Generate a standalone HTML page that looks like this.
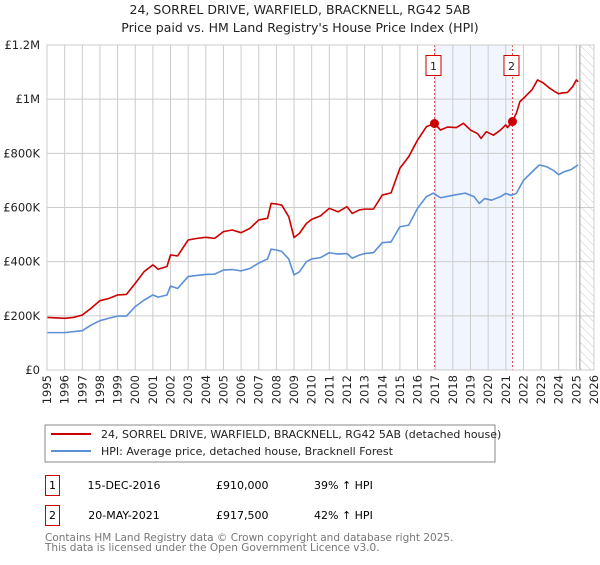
<!DOCTYPE html>
<html><head><meta charset="utf-8"><style>
body{margin:0;background:#fff;font-family:"Liberation Sans","DejaVu Sans",sans-serif;}
svg text{font-family:"DejaVu Sans","Liberation Sans",sans-serif;}
</style></head><body>
<svg id="chart" width="600" height="560" viewBox="0 0 600 560" xmlns="http://www.w3.org/2000/svg">
<defs><pattern id="hatch" width="6" height="6" patternUnits="userSpaceOnUse" patternTransform="rotate(-45)"><line x1="0" y1="0" x2="0" y2="6" stroke="#bbb" stroke-width="0.8"/></pattern></defs>
<text x="300" y="14" text-anchor="middle" font-size="12.5" fill="#222">24, SORREL DRIVE, WARFIELD, BRACKNELL, RG42 5AB</text>
<text x="300" y="32" text-anchor="middle" font-size="12.5" fill="#222">Price paid vs. HM Land Registry's House Price Index (HPI)</text>
<g id="plot"></g>
<rect x="45" y="425" width="450" height="37" fill="#fff" stroke="#888"/>
<line x1="51" y1="434" x2="91" y2="434" stroke="#cc0000" stroke-width="2"/>
<text x="101" y="438" font-size="11" fill="#222">24, SORREL DRIVE, WARFIELD, BRACKNELL, RG42 5AB (detached house)</text>
<line x1="51" y1="451" x2="91" y2="451" stroke="#5b8fd6" stroke-width="2"/>
<text x="101" y="455" font-size="11" fill="#222">HPI: Average price, detached house, Bracknell Forest</text>
<g>
<rect x="45.5" y="475.5" width="14" height="20" fill="#fff" stroke="#cc0000"/>
<text x="52.5" y="489" text-anchor="middle" font-size="11">1</text>
<text x="124" y="489" text-anchor="middle" font-size="11">15-DEC-2016</text>
<text x="216" y="489" font-size="11">£910,000</text>
<text x="314" y="489" font-size="11">39% ↑ HPI</text></g>
<g>
<rect x="45.5" y="505.5" width="14" height="20" fill="#fff" stroke="#cc0000"/>
<text x="52.5" y="519" text-anchor="middle" font-size="11">2</text>
<text x="124" y="519" text-anchor="middle" font-size="11">20-MAY-2021</text>
<text x="216" y="519" font-size="11">£917,500</text>
<text x="314" y="519" font-size="11">42% ↑ HPI</text></g>
<text x="45" y="541" font-size="10.5" fill="#777">Contains HM Land Registry data © Crown copyright and database right 2025.</text>
<text x="45" y="551" font-size="10.5" fill="#777">This data is licensed under the Open Government Licence v3.0.</text>
</svg>
<script>
const yTicks=[0,200000,400000,600000,800000,1000000,1200000];
const yTickLabels=["£0","£200K","£400K","£600K","£800K","£1M","£1.2M"];
const xYears=[1995,1996,1997,1998,1999,2000,2001,2002,2003,2004,2005,2006,2007,2008,2009,2010,2011,2012,2013,2014,2015,2016,2017,2018,2019,2020,2021,2022,2023,2024,2025,2026];
const hpiT=[1995,1996,1997,1997.5,1998,1998.5,1999,1999.5,2000,2000.5,2001,2001.3,2001.8,2002,2002.4,2003,2003.5,2004,2004.5,2005,2005.5,2006,2006.5,2007,2007.5,2007.7,2008,2008.3,2008.7,2009,2009.3,2009.7,2010,2010.5,2011,2011.5,2012,2012.3,2012.7,2013,2013.5,2014,2014.5,2015,2015.5,2016,2016.5,2016.9,2017.3,2018,2018.7,2019.2,2019.5,2019.8,2020.2,2020.7,2021,2021.3,2021.6,2022,2022.5,2022.9,2023.3,2023.7,2024,2024.3,2024.7,2025.1];
const hpiV=[138,138,145,166,182,191,199,199,234,258,277,269,277,310,301,345,349,353,354,369,371,366,375,395,410,446,443,438,410,351,362,400,410,415,433,428,430,413,424,430,433,470,473,529,535,597,640,653,636,645,653,640,615,633,627,640,652,645,652,700,732,757,751,737,721,732,740,757];
const propT=[1995,1996,1996.5,1997,1997.5,1998,1998.5,1999,1999.5,2000,2000.5,2001,2001.3,2001.8,2002,2002.4,2003,2003.5,2004,2004.5,2005,2005.5,2006,2006.5,2007,2007.5,2007.7,2008,2008.3,2008.7,2009,2009.3,2009.7,2010,2010.5,2011,2011.5,2012,2012.3,2012.7,2013,2013.5,2014,2014.5,2015,2015.5,2016,2016.5,2016.96,2017.3,2017.7,2018.2,2018.6,2019,2019.4,2019.6,2019.9,2020.3,2020.7,2021,2021.1,2021.38,2021.6,2021.8,2022.1,2022.5,2022.8,2023.1,2023.5,2023.8,2024,2024.2,2024.5,2024.8,2025,2025.1];
const propV=[194,191,194,203,228,256,264,277,279,320,363,388,372,382,425,421,480,486,490,486,511,517,507,523,554,560,615,613,609,566,489,504,541,556,569,597,584,603,578,591,594,594,646,654,745,788,849,898,911,886,897,895,911,886,873,855,880,867,886,905,895,919,948,991,1009,1036,1071,1061,1040,1027,1020,1023,1025,1047,1071,1064];
const saleT=[2016.96,2021.38];
const saleV=[910000,917500];
const saleLabels=["1","2"];
const X0=47,X1=594,Y0=370,Y1=45;
const xs=t=>X0+(t-1995)/(2026-1995)*(X1-X0);
const ys=v=>Y0-v/1200000*(Y0-Y1);
const NS="http://www.w3.org/2000/svg";
const g=document.getElementById('plot');
function mk(tag,attrs){const e=document.createElementNS(NS,tag);for(const k in attrs)e.setAttribute(k,attrs[k]);g.appendChild(e);return e;}
let e=mk('rect',{x:xs(saleT[0]),y:Y1,width:xs(saleT[1])-xs(saleT[0]),height:Y0-Y1,fill:'#eef3fc',opacity:0.8});


e=mk('rect',{x:xs(2025.2),y:Y1,width:X1-xs(2025.2),height:Y0-Y1,fill:'url(#hatch)'});


xYears.forEach(yr=>{const l=mk('line',{x1:xs(yr),x2:xs(yr),y1:Y1,y2:Y0,stroke:'#ccc','stroke-width':1});


const t=mk('text',{x:0,y:0,'font-size':11.5,fill:'#222','text-anchor':'end',transform:`translate(${xs(yr)+4},${Y0+5}) rotate(-90)`});t.textContent=yr;

});
yTicks.forEach((v,i)=>{const l=mk('line',{x1:X0,x2:X1,y1:ys(v),y2:ys(v),stroke:'#ccc','stroke-width':1});


const t=mk('text',{x:X0-7,y:ys(v)+4,'font-size':11.5,fill:'#222','text-anchor':'end'});t.textContent=yTickLabels[i];

});
e=mk('line',{x1:xs(2025.2),x2:xs(2025.2),y1:Y1,y2:Y0,stroke:'#999','stroke-width':1});


saleT.forEach((t,i)=>{const l=mk('line',{x1:xs(t),x2:xs(t),y1:Y1,y2:Y0,stroke:'#e05050','stroke-width':1,'stroke-dasharray':'2,2'});


const r=mk('rect',{x:xs(t)-8.5,y:55.5,width:15,height:20,fill:'#fff',stroke:'#cc0000'});


const tx=mk('text',{x:xs(t)-1,y:70,'font-size':11,'text-anchor':'middle',fill:'#222'});tx.textContent=saleLabels[i];

});
function line(T,V,color,name){const p=mk('polyline',{points:T.map((t,i)=>xs(t)+','+ys(V[i]*1000)).join(' '),fill:'none',stroke:color,'stroke-width':1.6,'stroke-linejoin':'round'});

}
line(hpiT,hpiV,'#5b8fd6','hpi-line');
line(propT,propV,'#cc0000','property-line');
saleT.forEach((t,i)=>{const c=mk('circle',{cx:xs(t),cy:ys(saleV[i]),r:4.5,fill:'#cc0000'});

});
mk('rect',{x:X0,y:Y1,width:X1-X0,height:Y0-Y1,fill:'none',stroke:'#ccc'});
</script>
</body></html>
